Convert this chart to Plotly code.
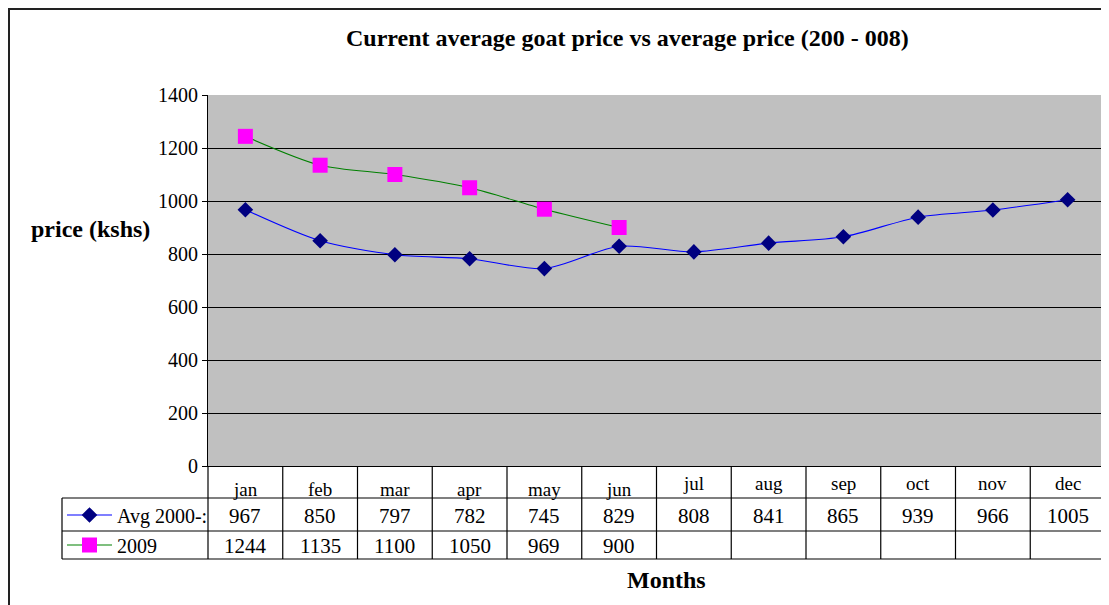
import plotly.graph_objects as go

# ---- data ----
months = ["jan", "feb", "mar", "apr", "may", "jun", "jul", "aug", "sep", "oct", "nov", "dec"]
avg_name = "Avg 2000-:"
avg_values = [967, 850, 797, 782, 745, 829, 808, 841, 865, 939, 966, 1005]
y2009_name = "2009"
y2009_values = [1244, 1135, 1100, 1050, 969, 900]
y_ticks = [0, 200, 400, 600, 800, 1000, 1200, 1400]

W, H = 1109, 605
OFF = 8  # page body margin around the figure
FONT = "Liberation Serif"


def px(x):
    """page pixel x -> paper fraction"""
    return (x - OFF) / W


def py(y):
    """page pixel y -> paper fraction"""
    return 1 - (y - OFF) / H


PL, PR, PT, PB = 208, 1105, 95, 466  # plot area in page pixels
ROW1_TOP, ROW2_TOP, TABLE_BOTTOM, TABLE_LEFT = 498, 531, 559, 62

fig = go.Figure()

fig.add_trace(go.Scatter(
    x=list(range(len(months))), y=avg_values, name=avg_name,
    mode="lines+markers",
    line=dict(color="#0000FF", width=1.1, shape="spline", smoothing=0.8),
    marker=dict(symbol="diamond", size=12, color="#000080", line=dict(width=0)),
    legend="legend",
))
fig.add_trace(go.Scatter(
    x=list(range(len(y2009_values))), y=y2009_values, name=y2009_name,
    mode="lines+markers",
    line=dict(color="#008000", width=1.1, shape="spline", smoothing=0.8),
    marker=dict(symbol="square", size=15, color="#FF00FF", line=dict(width=0)),
    legend="legend2",
))

shapes = []
# outer frame
shapes.append(dict(type="rect", xref="paper", yref="paper",
                   x0=px(9), x1=px(1130), y0=py(640), y1=py(9),
                   line=dict(color="#222222", width=2), fillcolor="rgba(0,0,0,0)"))
# table horizontal lines
for yy in (ROW1_TOP, ROW2_TOP, TABLE_BOTTOM):
    shapes.append(dict(type="line", xref="paper", yref="paper",
                       x0=px(TABLE_LEFT), x1=px(PR), y0=py(yy), y1=py(yy),
                       line=dict(color="black", width=1.2)))
# legend column left edge
shapes.append(dict(type="line", xref="paper", yref="paper",
                   x0=px(TABLE_LEFT), x1=px(TABLE_LEFT), y0=py(ROW1_TOP), y1=py(TABLE_BOTTOM),
                   line=dict(color="black", width=1.2)))
# column separators
n = len(months)
for i in range(n + 1):
    xx = PL + i * (PR - PL) / n
    shapes.append(dict(type="line", xref="paper", yref="paper",
                       x0=px(xx), x1=px(xx), y0=py(PB), y1=py(TABLE_BOTTOM),
                       line=dict(color="black", width=1.2)))

annotations = []
# month header labels
for i, m in enumerate(months):
    yy = 489 if i < 6 else 483
    annotations.append(dict(x=i, xref="x", y=py(yy), yref="paper", text=m,
                            showarrow=False, font=dict(family=FONT, size=19, color="black"),
                            xanchor="center", yanchor="middle"))
# values rows
for i, v in enumerate(avg_values):
    annotations.append(dict(x=i, xref="x", y=py(516), yref="paper", text=str(v),
                            showarrow=False, font=dict(family=FONT, size=21, color="black"),
                            xanchor="center", yanchor="middle"))
for i, v in enumerate(y2009_values):
    annotations.append(dict(x=i, xref="x", y=py(546), yref="paper", text=str(v),
                            showarrow=False, font=dict(family=FONT, size=21, color="black"),
                            xanchor="center", yanchor="middle"))
# title and axis titles
annotations.append(dict(x=px(627), y=py(38), xref="paper", yref="paper",
                        text="<b>Current average goat price vs average price (200 - 008)</b>",
                        showarrow=False, font=dict(family=FONT, size=24, color="black"),
                        xanchor="center", yanchor="middle"))
annotations.append(dict(x=px(90), y=py(229), xref="paper", yref="paper", text="<b>price (kshs)</b>",
                        showarrow=False, font=dict(family=FONT, size=24, color="black"),
                        xanchor="center", yanchor="middle"))
annotations.append(dict(x=px(666), y=py(580), xref="paper", yref="paper", text="<b>Months</b>",
                        showarrow=False, font=dict(family=FONT, size=24, color="black"),
                        xanchor="center", yanchor="middle"))

legend_common = dict(xanchor="left", yanchor="middle", bgcolor="rgba(0,0,0,0)",
                     borderwidth=0, font=dict(family=FONT, size=20, color="black"),
                     itemwidth=45, tracegroupgap=0)

fig.update_layout(
    width=W, height=H, autosize=False,
    margin=dict(l=0, r=0, t=0, b=0, pad=0, autoexpand=False),
    paper_bgcolor="white",
    plot_bgcolor="#C0C0C0",
    xaxis=dict(domain=[px(PL), px(PR)], range=[-0.5, n - 0.5], automargin=False,
               showticklabels=False, ticks="", showgrid=False, zeroline=False,
               showline=True, linecolor="black", linewidth=1.2, fixedrange=True),
    yaxis=dict(domain=[py(PB), py(PT)], range=[0, 1400], tickvals=y_ticks, automargin=False,
               ticks="outside", ticklen=5, tickcolor="black", tickwidth=1,
               showgrid=True, gridcolor="black", gridwidth=1, zeroline=False,
               showline=True, linecolor="black", linewidth=1.2,
               tickfont=dict(family=FONT, size=20, color="black"), fixedrange=True),
    legend=dict(x=px(62), y=py(515), **legend_common),
    legend2=dict(x=px(62), y=py(545), **legend_common),
    shapes=shapes,
    annotations=annotations,
    showlegend=True,
)

fig.write_html("out.html")
